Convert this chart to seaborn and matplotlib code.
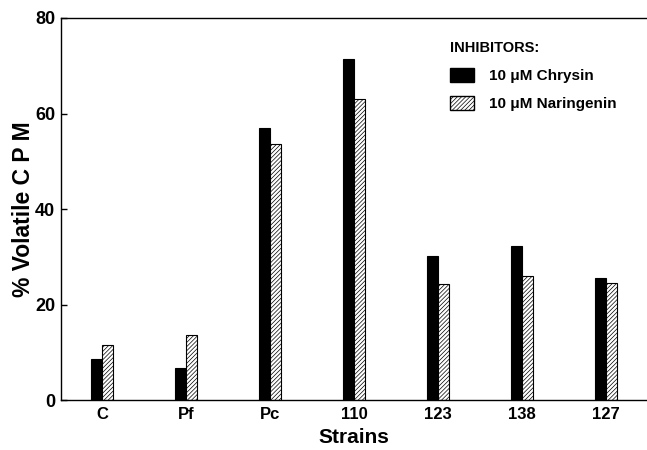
import matplotlib
matplotlib.use("Agg")
import matplotlib.pyplot as plt
import seaborn as sns
import pandas as pd
from matplotlib.patches import Patch

strains = ["C", "Pf", "Pc", "110", "123", "138", "127"]
chrysin = [8.5, 6.8, 57.0, 71.5, 30.2, 32.3, 25.5]
naringenin = [11.5, 13.6, 53.6, 63.0, 24.2, 26.0, 24.6]
series_names = ["10 \u03bcM Chrysin", "10 \u03bcM Naringenin"]

df = pd.DataFrame({
    "strain": strains * 2,
    "value": chrysin + naringenin,
    "inhibitor": [series_names[0]] * len(strains) + [series_names[1]] * len(strains),
})

sns.set_style("white")
plt.rcParams["font.family"] = ["Liberation Sans", "DejaVu Sans"]
plt.rcParams["hatch.linewidth"] = 0.5
plt.rcParams["hatch.color"] = "#444444"
plt.rcParams["text.color"] = "black"
plt.rcParams["axes.labelcolor"] = "black"
plt.rcParams["xtick.color"] = "black"
plt.rcParams["ytick.color"] = "black"

fig = plt.figure(figsize=(6.47, 4.5), dpi=100)
ax = fig.add_axes([0.094, 0.111, 0.906, 0.849])

sns.barplot(data=df, x="strain", y="value", hue="inhibitor", order=strains,
            hue_order=series_names, palette=["black", "white"], width=0.27,
            edgecolor="black", linewidth=0.8, saturation=1, ax=ax, legend=False,
            errorbar=None)

n = len(strains)
for i, p in enumerate(ax.patches):
    if i >= n:
        p.set_hatch("////////")

ax.set_xlim(-0.49, 6.49)
ax.set_ylim(0, 80)
ax.set_yticks([0, 20, 40, 60, 80])
for s in ["left", "top", "bottom"]:
    ax.spines[s].set_visible(True)
    ax.spines[s].set_color("black")
    ax.spines[s].set_linewidth(1.0)
ax.spines["right"].set_visible(False)
ax.tick_params(axis="y", direction="in", length=4, width=1, left=True,
               labelsize=13, pad=4, colors="black")
ax.tick_params(axis="x", length=0, labelsize=12, pad=5, colors="black")
for lab in ax.get_xticklabels() + ax.get_yticklabels():
    lab.set_fontweight("bold")

ax.set_xlabel("Strains", fontsize=15, fontweight="bold", labelpad=4, color="black")
ax.set_ylabel("% Volatile C P M", fontsize=16.5, fontweight="bold", labelpad=0, color="black")

handles = [Patch(facecolor="black", edgecolor="black"),
           Patch(facecolor="white", edgecolor="black", hatch="////////")]
leg = ax.legend(handles, series_names, title="INHIBITORS:", loc="upper left",
                bbox_to_anchor=(0.64, 0.975), frameon=False, fontsize=11,
                title_fontproperties={"weight": "bold", "size": 10.5},
                handlelength=1.6, handleheight=1.0, handletextpad=1.0,
                labelspacing=0.85)
leg._legend_box.align = "left"
for t in leg.get_texts():
    t.set_fontweight("bold")
    t.set_color("black")
leg.get_title().set_color("black")

fig.savefig("out.png", dpi=100)
